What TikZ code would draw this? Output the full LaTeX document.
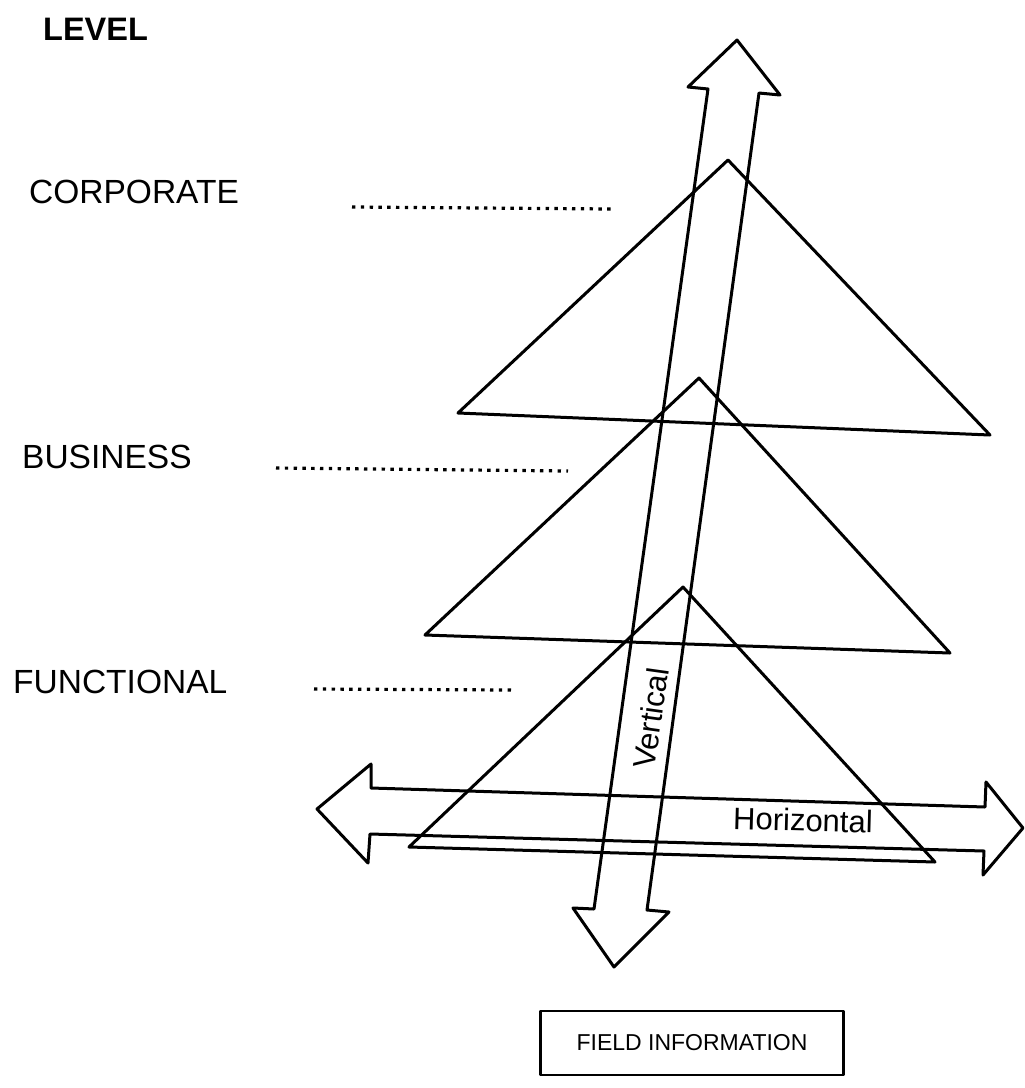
\documentclass[tikz,border=0pt]{standalone}
\usepackage{fontspec}
\setmainfont{Liberation Sans}
\begin{document}
\begin{tikzpicture}[x=1pt,y=-1pt,line join=round,
  every node/.style={inner sep=0pt},
  level/.style={anchor=base west,font=\fontsize{33.5}{36}\selectfont},
  guide/.style={line width=3.2pt,dash pattern=on 3.4pt off 5.4pt},
  edge/.style={line width=3pt}]
\useasboundingbox (0,0) rectangle (1025,1088);

% level names
\node[level,font=\bfseries\fontsize{32.5}{35}\selectfont] (L) at (43,40) {LEVEL};
\node[level] (C) at (29,203) {CORPORATE};
\node[level] (B) at (22,468) {BUSINESS};
\node[level] (F) at (13,693) {FUNCTIONAL};

% dotted guides
\coordinate (c1) at (352,207); \coordinate (c2) at (612,209);
\coordinate (b1) at (276,468); \coordinate (b2) at (568,471);
\coordinate (f1) at (314,689); \coordinate (f2) at (512,690);
\draw[guide] (c1) -- (c2);
\draw[guide] (b1) -- (b2);
\draw[guide] (f1) -- (f2);

% pyramids
\coordinate (T1) at (728,160); \coordinate (T1l) at (458,413); \coordinate (T1r) at (990,435);
\coordinate (T2) at (699,378); \coordinate (T2l) at (425,635); \coordinate (T2r) at (950,653);
\coordinate (T3) at (683,587); \coordinate (T3l) at (409,847); \coordinate (T3r) at (935,862);
\draw[edge] (T1) -- (T1l) -- (T1r) -- cycle;
\draw[edge] (T2) -- (T2l) -- (T2r) -- cycle;
\draw[edge] (T3) -- (T3l) -- (T3r) -- cycle;

% vertical arrow
\coordinate (V1) at (708,89); \coordinate (V2) at (688,87); \coordinate (V3) at (737,40);
\coordinate (V4) at (780,95); \coordinate (V5) at (759,93); \coordinate (V6) at (647,910);
\coordinate (V7) at (669,912); \coordinate (V8) at (614,967); \coordinate (V9) at (573,908);
\coordinate (V10) at (594,909);
\draw[edge] (V1) -- (V2) -- (V3) -- (V4) -- (V5) -- (V6) -- (V7) -- (V8) -- (V9) -- (V10) -- cycle;
\node[rotate=82,font=\fontsize{31}{34}\selectfont] (vt) at (651,718) {Vertical};

% horizontal arrow
\coordinate (H1) at (371,788); \coordinate (H2) at (371,764); \coordinate (H3) at (317,809);
\coordinate (H4) at (368,863); \coordinate (H5) at (370,834); \coordinate (H6) at (984,851);
\coordinate (H7) at (983,875); \coordinate (H8) at (1023,828); \coordinate (H9) at (986,782);
\coordinate (H10) at (985,807);
\draw[edge] (H1) -- (H2) -- (H3) -- (H4) -- (H5) -- (H6) -- (H7) -- (H8) -- (H9) -- (H10) -- cycle;
\node[rotate=-1.5,font=\fontsize{31}{34}\selectfont] (ht) at (803,820) {Horizontal};

% source box
\node[draw,line width=2.6pt,minimum width=303,minimum height=64,font=\fontsize{23}{25}\selectfont] (box) at (692,1043) {FIELD INFORMATION};

\end{tikzpicture}
\end{document}
